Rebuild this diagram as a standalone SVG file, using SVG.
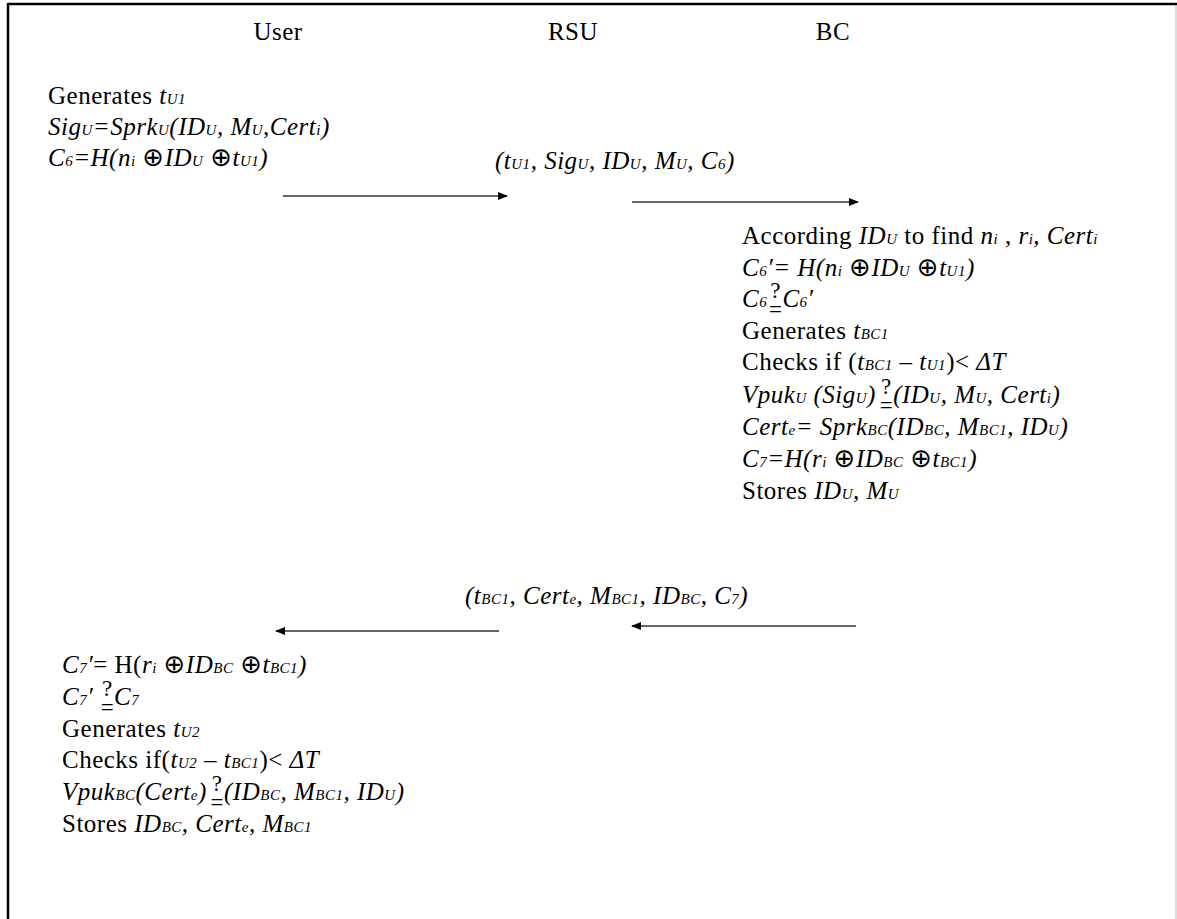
<svg xmlns="http://www.w3.org/2000/svg" width="1177" height="919" viewBox="0 0 1177 919">
<defs>
<marker id="ah" markerWidth="10" markerHeight="8" refX="9" refY="4" orient="auto" markerUnits="userSpaceOnUse">
<path d="M0,0 L10,4 L0,8 Z" fill="#000"/>
</marker>
<style>
.t{font-family:"Liberation Serif","Times New Roman",serif;font-size:25px;letter-spacing:0.5px;fill:#000}
.i{font-style:italic}
.s{font-size:15px;font-style:italic}
.o{font-family:"DejaVu Sans",sans-serif;font-weight:200;font-size:26px;font-style:italic}
.q{font-style:normal;font-size:23px}
.ar{stroke:#333;stroke-width:1.6;fill:none}
</style>
</defs>
<rect x="0" y="0" width="1177" height="919" fill="#fff"/>
<g id="frame">
<line x1="8" y1="4" x2="1177" y2="4" stroke="#000" stroke-width="2.5"/>
<line x1="8" y1="3" x2="8" y2="919" stroke="#000" stroke-width="2.5"/>
<line x1="1176" y1="5" x2="1176" y2="919" stroke="#bbb" stroke-width="1"/>
</g>
<g id="headers">
<text class="t" x="278" y="40" text-anchor="middle">User</text>
<text class="t" x="573" y="40" text-anchor="middle">RSU</text>
<text class="t" x="833" y="40" text-anchor="middle">BC</text>
</g>
<g id="user-step1">
<text class="t" x="48" y="104">Generates <tspan class="i">t</tspan><tspan class="s">U1</tspan></text>
<text class="t i" x="48" y="135">Sig<tspan class="s">U</tspan>=Sprk<tspan class="s">U</tspan>(ID<tspan class="s">U</tspan>, M<tspan class="s">U</tspan>,Cert<tspan class="s">i</tspan>)</text>
<text class="t i" x="48" y="166">C<tspan class="s">6</tspan>=H(n<tspan class="s">i</tspan> <tspan class="o">⊕</tspan>ID<tspan class="s">U</tspan> <tspan class="o">⊕</tspan>t<tspan class="s">U1</tspan>)</text>
</g>
<g id="msg1-label">
<text class="t i" x="495" y="169">(t<tspan class="s">U1</tspan>, Sig<tspan class="s">U</tspan>, ID<tspan class="s">U</tspan>, M<tspan class="s">U</tspan>, C<tspan class="s">6</tspan>)</text>
</g>
<g id="bc-step">
<text class="t" x="742" y="244">According <tspan class="i">ID</tspan><tspan class="s">U</tspan> to find <tspan class="i">n</tspan><tspan class="s">i</tspan> , <tspan class="i">r</tspan><tspan class="s">i</tspan><tspan class="i">, Cert</tspan><tspan class="s">i</tspan></text>
<text class="t i" x="742" y="276">C<tspan class="s">6</tspan>′= H(n<tspan class="s">i</tspan> <tspan class="o">⊕</tspan>ID<tspan class="s">U</tspan> <tspan class="o">⊕</tspan>t<tspan class="s">U1</tspan>)</text>
<text class="t i" x="742" y="307">C<tspan class="s">6</tspan><tspan class="q" dx="3" dy="-9">?</tspan><tspan class="q" dx="-12" dy="19">=</tspan><tspan dy="-10">C</tspan><tspan class="s">6</tspan>′</text>
<text class="t" x="742" y="339">Generates <tspan class="i">t</tspan><tspan class="s">BC1</tspan></text>
<text class="t" x="742" y="370">Checks if (<tspan class="i">t</tspan><tspan class="s">BC1</tspan> – <tspan class="i">t</tspan><tspan class="s">U1</tspan>)&lt; <tspan class="i">ΔT</tspan></text>
<text class="t i" x="742" y="403">Vpuk<tspan class="s">U</tspan> (Sig<tspan class="s">U</tspan>)<tspan class="q" dx="5" dy="-9">?</tspan><tspan class="q" dx="-12" dy="19">=</tspan><tspan dy="-10">(ID</tspan><tspan class="s">U</tspan>, M<tspan class="s">U</tspan>, Cert<tspan class="s">i</tspan>)</text>
<text class="t i" x="742" y="435">Cert<tspan class="s">e</tspan>= Sprk<tspan class="s">BC</tspan>(ID<tspan class="s">BC</tspan>, M<tspan class="s">BC1</tspan>, ID<tspan class="s">U</tspan>)</text>
<text class="t i" x="742" y="467">C<tspan class="s">7</tspan>=H(r<tspan class="s">i</tspan> <tspan class="o">⊕</tspan>ID<tspan class="s">BC</tspan> <tspan class="o">⊕</tspan>t<tspan class="s">BC1</tspan>)</text>
<text class="t" x="742" y="499">Stores <tspan class="i">ID</tspan><tspan class="s">U</tspan><tspan class="i">, M</tspan><tspan class="s">U</tspan></text>
</g>
<g id="msg2-label">
<text class="t i" x="465" y="604">(t<tspan class="s">BC1</tspan>, Cert<tspan class="s">e</tspan>, M<tspan class="s">BC1</tspan>, ID<tspan class="s">BC</tspan>, C<tspan class="s">7</tspan>)</text>
</g>
<g id="user-step2">
<text class="t i" x="62" y="673">C<tspan class="s">7</tspan>′<tspan class="q" style="font-size:25px">= H(</tspan>r<tspan class="s">i</tspan> <tspan class="o">⊕</tspan>ID<tspan class="s">BC</tspan> <tspan class="o">⊕</tspan>t<tspan class="s">BC1</tspan>)</text>
<text class="t i" x="62" y="705">C<tspan class="s">7</tspan>′ <tspan class="q" dx="2" dy="-9">?</tspan><tspan class="q" dx="-12" dy="19">=</tspan><tspan dy="-10">C</tspan><tspan class="s">7</tspan></text>
<text class="t" x="62" y="737">Generates <tspan class="i">t</tspan><tspan class="s">U2</tspan></text>
<text class="t" x="62" y="768">Checks if(<tspan class="i">t</tspan><tspan class="s">U2</tspan> – <tspan class="i">t</tspan><tspan class="s">BC1</tspan>)&lt; <tspan class="i">ΔT</tspan></text>
<text class="t i" x="62" y="800">Vpuk<tspan class="s">BC</tspan>(Cert<tspan class="s">e</tspan>)<tspan class="q" dx="5" dy="-9">?</tspan><tspan class="q" dx="-12" dy="19">=</tspan><tspan dy="-10">(ID</tspan><tspan class="s">BC</tspan>, M<tspan class="s">BC1</tspan>, ID<tspan class="s">U</tspan>)</text>
<text class="t" x="62" y="832">Stores <tspan class="i">ID</tspan><tspan class="s">BC</tspan><tspan class="i">, Cert</tspan><tspan class="s">e</tspan><tspan class="i">, M</tspan><tspan class="s">BC1</tspan></text>
</g>
<g id="connectors">
<line class="ar" x1="283" y1="196" x2="507" y2="196" marker-end="url(#ah)"/>
<line class="ar" x1="632" y1="202" x2="858" y2="202" marker-end="url(#ah)"/>
<line class="ar" x1="856" y1="626" x2="632" y2="626" marker-end="url(#ah)"/>
<line class="ar" x1="499" y1="631" x2="276" y2="631" marker-end="url(#ah)"/>
</g>
</svg>
